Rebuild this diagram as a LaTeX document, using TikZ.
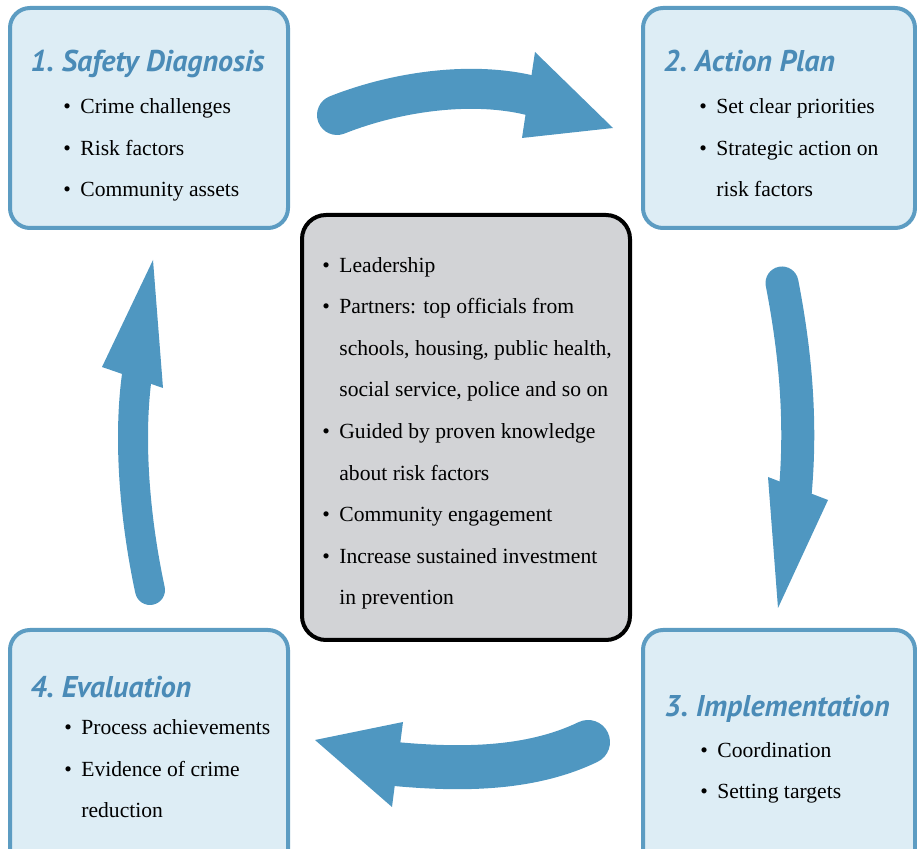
\documentclass[tikz,border=0pt]{standalone}
\usepackage{fontspec}
\setmainfont{Liberation Serif}
\newfontfamily\headfont{PT Sans}
\definecolor{boxblue}{HTML}{DDEDF5}
\definecolor{lineblue}{HTML}{5C9CC2}
\definecolor{headblue}{HTML}{4A8BB7}
\definecolor{arrowblue}{HTML}{4F97C1}
\definecolor{midgrey}{HTML}{D2D3D6}
\newcommand{\bitem}{\makebox[8.5pt][l]{\textbullet}}
\newcommand{\bcont}{\hspace*{8.5pt}}
\tikzset{
  stage/.style={draw=lineblue, fill=boxblue, line width=2pt, rounded corners=10pt},
  core/.style={draw=black, fill=midgrey, line width=2pt, rounded corners=12pt},
  headline/.style={font=\headfont\bfseries\itshape\fontsize{15}{18}\selectfont, text=headblue, anchor=base west, inner sep=0pt},
  itemtext/.style={font=\fontsize{10.8}{20.8}\selectfont, align=left, anchor=base west, inner sep=0pt},
  flow/.style={draw=arrowblue, line cap=round},
  flowhead/.style={fill=arrowblue},
}
\begin{document}
\begin{tikzpicture}[x=0.5pt,y=-0.5pt]
	\useasboundingbox (0,0) rectangle (917,849);
	% the four stages
	\node[stage, minimum width=139pt, minimum height=110pt] (diag) at (149,118) {};
	\node[stage, minimum width=136pt, minimum height=110pt] (plan) at (779,118) {};
	\node[stage, minimum width=136pt, minimum height=120pt] (impl) at (779,750) {};
	\node[stage, minimum width=139pt, minimum height=120pt] (eval) at (149,750) {};
	\node[core, minimum width=164pt, minimum height=212.5pt] (mid) at (466,427.5) {};
	% titles
	\node[headline] (diagtitle) at (30,72) {1.\ Safety Diagnosis};
	\node[headline] (plantitle) at (663,72) {2.\ Action Plan};
	\node[headline] (impltitle) at (664,717) {3.\ Implementation};
	\node[headline] (evaltitle) at (30,698) {4.\ Evaluation};
	% bullet lists (placed at the baseline of their last line)
	\node[itemtext] (diaglist) at (63,197) {\bitem Crime challenges\\ \bitem Risk factors\\ \bitem Community assets};
	\node[itemtext] (planlist) at (699,197) {\bitem Set clear priorities\\ \bitem Strategic action on\\ \bcont risk factors};
	\node[itemtext] (impllist) at (700,799) {\bitem Coordination\\ \bitem Setting targets};
	\node[itemtext] (evallist) at (64,818) {\bitem Process achievements\\ \bitem Evidence of crime\\ \bcont reduction};
	\node[itemtext] (midlist) at (322,605) {\bitem Leadership\\ \bitem Partners: top officials from\\ \bcont schools, housing, public health,\\ \bcont social service, police and so on\\ \bitem Guided by proven knowledge\\ \bcont about risk factors\\ \bitem Community engagement\\ \bitem Increase sustained investment\\ \bcont in prevention};
	% arrows
	\draw[flow, line width=20pt] (337,115) .. controls (400,90) and (480,80) .. (540,98);
	\fill[flowhead] (535,52) -- (613,128) -- (522,138) -- cycle;
	\draw[flow, line width=16.5pt] (782,283) .. controls (795,350) and (802,420) .. (795,495);
	\fill[flowhead] (768,477) -- (828,500) -- (778,608) -- cycle;
	\draw[flow, line width=22pt] (588,742) .. controls (530,770) and (460,770) .. (395,764);
	\fill[flowhead] (403,722) -- (315,740) -- (392,807) -- cycle;
	\draw[flow, line width=15pt] (150,590) .. controls (135,520) and (128,440) .. (137,375);
	\fill[flowhead] (102,367) -- (153,260) -- (163,388) -- cycle;
\end{tikzpicture}
\end{document}
